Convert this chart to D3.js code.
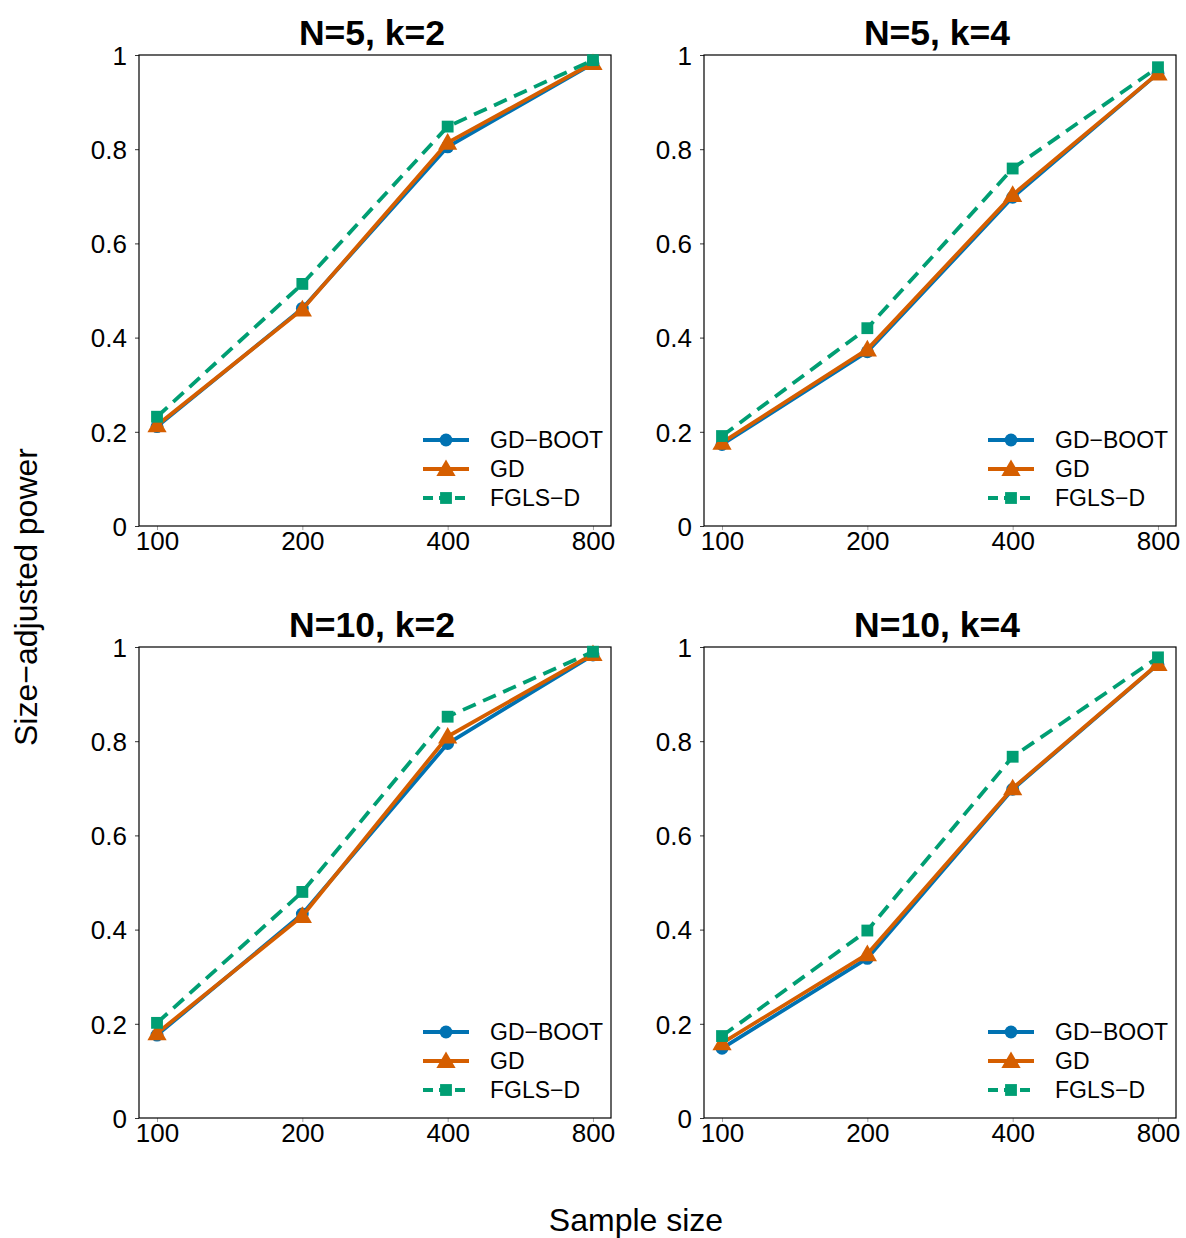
<!DOCTYPE html>
<html>
<head>
<meta charset="utf-8">
<script src="https://cdn.jsdelivr.net/npm/d3@7"></script>
<style>
  body { margin: 0; background: #fff; }
  text { font-family: "Liberation Sans", Arial, sans-serif; fill: #000; }
</style>
</head>
<body>
<svg id="chart"></svg>
<script>
// data
const sampleSizes = [100, 200, 400, 800];
const seriesNames = ["GD\u2212BOOT", "GD", "FGLS\u2212D"];
const panelTitles = ["N=5, k=2", "N=5, k=4", "N=10, k=2", "N=10, k=4"];
const yTicks = [0, 0.2, 0.4, 0.6, 0.8, 1];

const gdBoot = [
  [0.211, 0.462, 0.805, 0.982],
  [0.173, 0.370, 0.698, 0.961],
  [0.176, 0.433, 0.795, 0.983],
  [0.148, 0.339, 0.698, 0.963]
];
const gd = [
  [0.214, 0.460, 0.814, 0.983],
  [0.177, 0.375, 0.703, 0.961],
  [0.180, 0.429, 0.810, 0.985],
  [0.159, 0.348, 0.700, 0.964]
];
const fglsD = [
  [0.232, 0.514, 0.848, 0.989],
  [0.191, 0.420, 0.759, 0.974],
  [0.202, 0.480, 0.852, 0.990],
  [0.174, 0.398, 0.767, 0.978]
];

const seriesData = [gdBoot, gd, fglsD];
const colors = ["#0072B2", "#D55E00", "#009E73"];
const symbols = [d3.symbolCircle, d3.symbolTriangle, d3.symbolSquare];
const symbolSizes = [130, 160, 140];
const dashes = [null, null, "14,8"];

const W = 1186, H = 1238;
const svg = d3.select("#chart").attr("width", W).attr("height", H);

const plotW = 472, plotH = 471;
const origins = [[139, 55], [704, 55], [139, 647], [704, 647]];

const x = d3.scaleLog().base(2)
  .domain([100 / Math.pow(2, 0.124), 800 * Math.pow(2, 0.124)])
  .range([0, plotW]);
const y = d3.scaleLinear().domain([0, 1]).range([plotH, 0]);

panelTitles.forEach((title, p) => {
  const g = svg.append("g").attr("transform", `translate(${origins[p][0]},${origins[p][1]})`);

  // axes
  const yAxis = g.append("g").call(d3.axisLeft(y).tickValues(yTicks).tickSize(4).tickFormat(d3.format("~g")));
  yAxis.select(".domain").remove();
  yAxis.selectAll("line").attr("stroke", "#000").attr("stroke-width", 0.8);
  yAxis.selectAll("text").attr("font-size", 26).attr("x", -12).attr("dy", "0.36em")
    .style("font-family", "'Liberation Sans', Arial, sans-serif");

  const xAxis = g.append("g").attr("transform", `translate(0,${plotH})`)
    .call(d3.axisBottom(x).tickValues(sampleSizes).tickSize(4).tickFormat(d3.format("d")));
  xAxis.select(".domain").remove();
  xAxis.selectAll("line").attr("stroke", "#888").attr("stroke-width", 0.8);
  xAxis.selectAll("text").attr("font-size", 26).attr("y", 4).attr("dy", "0.78em")
    .style("font-family", "'Liberation Sans', Arial, sans-serif");

  g.append("rect").attr("width", plotW).attr("height", plotH)
    .attr("fill", "none").attr("stroke", "#000").attr("stroke-width", 1.2);

  g.append("text").attr("x", plotW / 2 - 3).attr("y", -10)
    .attr("text-anchor", "middle").attr("font-size", 35.5).attr("font-weight", "bold")
    .text(title);

  const line = d3.line().x((d, i) => x(sampleSizes[i])).y(d => y(d));

  seriesData.forEach((s, k) => {
    const vals = s[p];
    g.append("path").datum(vals).attr("d", line)
      .attr("fill", "none").attr("stroke", colors[k]).attr("stroke-width", 3.8)
      .attr("stroke-dasharray", dashes[k]).attr("stroke-linejoin", "round");
    g.selectAll(null).data(vals).enter().append("path")
      .attr("d", d3.symbol().type(symbols[k]).size(symbolSizes[k]))
      .attr("transform", (d, i) => `translate(${x(sampleSizes[i])},${y(d) + (k === 1 ? 1.5 : 0)})`)
      .attr("fill", colors[k]);
  });

  // legend
  const leg = g.append("g").attr("transform", `translate(${284},${385})`);
  seriesNames.forEach((name, k) => {
    const row = leg.append("g").attr("transform", `translate(0,${k * 29})`);
    row.append("line").attr("x1", 0).attr("x2", 46).attr("y1", 0).attr("y2", 0)
      .attr("stroke", colors[k]).attr("stroke-width", 3.8)
      .attr("stroke-dasharray", dashes[k] ? "10,6" : null);
    row.append("path").attr("d", d3.symbol().type(symbols[k]).size(symbolSizes[k]))
      .attr("transform", `translate(23,${k === 1 ? 1.5 : 0})`).attr("fill", colors[k]);
    row.append("text").attr("x", 67).attr("y", 0).attr("dy", "0.36em")
      .attr("font-size", 23).text(name);
  });
});

svg.append("text").attr("x", 636).attr("y", 1231).attr("text-anchor", "middle")
  .attr("font-size", 32).text("Sample size");
svg.append("text").attr("transform", "translate(37,597) rotate(-90)")
  .attr("text-anchor", "middle").attr("font-size", 32).text("Size\u2212adjusted power");
</script>
</body>
</html>
